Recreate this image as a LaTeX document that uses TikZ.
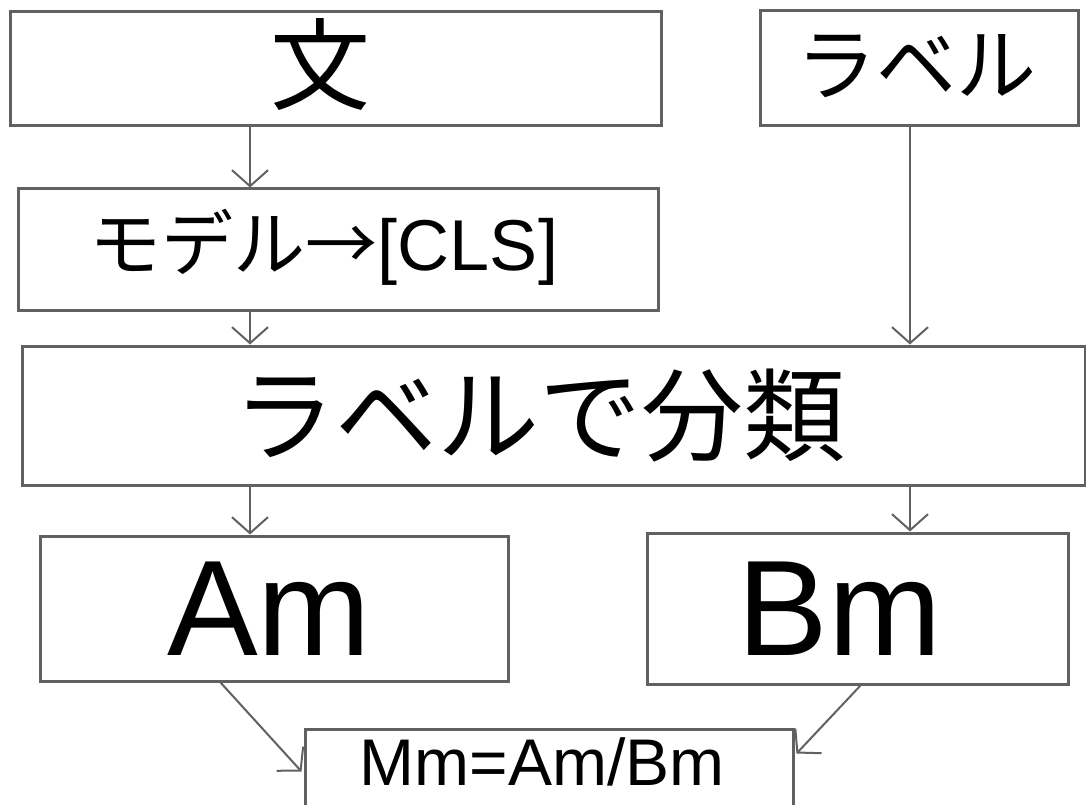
\documentclass[tikz,border=0pt]{standalone}
\usepackage{fontspec}
\setmainfont{Liberation Sans}
\newfontfamily\jp{Noto Sans CJK JP}
\usetikzlibrary{arrows.meta,calc}
\begin{document}
\begin{tikzpicture}[x=1pt,y=-1pt,
  box/.style={draw=black!62,line width=3pt,fill=white,inner sep=0pt,anchor=center},
  txt/.style={inner sep=0pt,anchor=center},
  arr/.style={draw=black!62,line width=2pt,-{Straight Barb[length=16pt,width=36pt,line width=2pt]}}]
\useasboundingbox (0,0) rectangle (1086,805);
\clip (0,0) rectangle (1086,805);
\fill[white] (0,0) rectangle (1086,805);
% boxes
\node[box,minimum width=651pt,minimum height=114pt] (wen) at (335.5,69) {};
\node[box,minimum width=318pt,minimum height=115pt] (lab) at (919,68.5) {};
\node[box,minimum width=640pt,minimum height=121pt] (model) at (338,249.5) {};
\node[box,minimum width=1063pt,minimum height=139pt] (cls) at (553.5,415.5) {};
\node[box,minimum width=468pt,minimum height=145pt] (am) at (274,608.5) {};
\node[box,minimum width=421pt,minimum height=151pt] (bm) at (857.5,608.5) {};
\node[box,minimum width=488pt,minimum height=102pt] (mm) at (549,780) {};
% texts
\node[txt] (went) at ($(wen)+(-15,-4)$) {\jp\fontsize{100}{102}\selectfont 文};
\node[txt] (labt) at ($(lab)+(-3,-2)$) {\jp\fontsize{80}{82}\selectfont ラベル};
\node[txt] (modelt) at ($(model)+(-14,-2)$) {\fontsize{72}{74}\selectfont{\jp モデル→}[CLS]};
\node[txt] (clst) at ($(cls)+(-14,0)$) {\jp\fontsize{102}{104}\selectfont ラベルで分類};
\node[txt] (amt) at ($(am)+(-5,0)$) {\fontsize{136}{138}\selectfont Am};
\node[txt] (bmt) at ($(bm)+(-18,0)$) {\fontsize{136}{138}\selectfont Bm};
\node[txt] (mmt) at (542,762) {\fontsize{66}{68}\selectfont Mm=Am/Bm};
% connectors
\coordinate (xl) at (250,0);
\coordinate (xr) at (910,0);
\draw[arr] (wen.south -| xl) -- (model.north -| xl);
\draw[arr] (model.south -| xl) -- (cls.north -| xl);
\draw[arr] (lab.south -| xr) -- (cls.north -| xr);
\draw[arr] (cls.south -| xl) -- (am.north -| xl);
\draw[arr] (cls.south -| xr) -- (bm.north -| xr);
\draw[arr] ($(am.south west)+(182,0)$) -- ($(mm.north west)+(-2,44)$);
\draw[arr] ($(bm.south west)+(215,0)$) -- ($(mm.north east)+(2,26)$);
\end{tikzpicture}
\end{document}
